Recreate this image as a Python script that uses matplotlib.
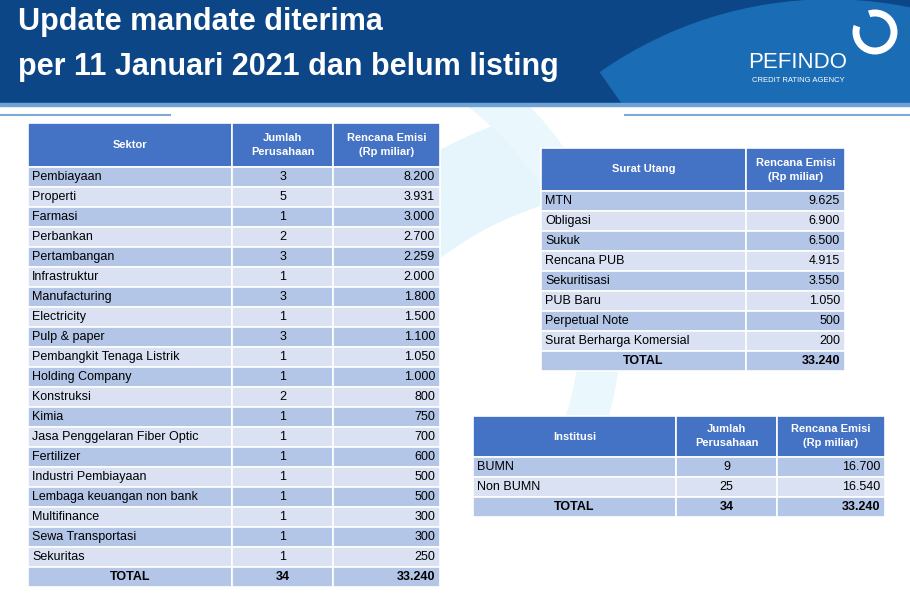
import matplotlib.pyplot as plt
from matplotlib.patches import Rectangle, Circle, Wedge

plt.rcParams["font.family"] = "Liberation Sans"

title_lines = ["Update mandate diterima", "per 11 Januari 2021 dan belum listing"]

sektor = ["Pembiayaan", "Properti", "Farmasi", "Perbankan", "Pertambangan", "Infrastruktur",
          "Manufacturing", "Electricity", "Pulp & paper", "Pembangkit Tenaga Listrik",
          "Holding Company", "Konstruksi", "Kimia", "Jasa Penggelaran Fiber Optic",
          "Fertilizer", "Industri Pembiayaan", "Lembaga keuangan non bank", "Multifinance",
          "Sewa Transportasi", "Sekuritas"]
sektor_jumlah = [3, 5, 1, 2, 3, 1, 3, 1, 3, 1, 1, 2, 1, 1, 1, 1, 1, 1, 1, 1]
sektor_emisi = ["8.200", "3.931", "3.000", "2.700", "2.259", "2.000", "1.800", "1.500", "1.100",
                "1.050", "1.000", "800", "750", "700", "600", "500", "500", "300", "300", "250"]

surat = ["MTN", "Obligasi", "Sukuk", "Rencana PUB", "Sekuritisasi", "PUB Baru",
         "Perpetual Note", "Surat Berharga Komersial"]
surat_emisi = ["9.625", "6.900", "6.500", "4.915", "3.550", "1.050", "500", "200"]

institusi = ["BUMN", "Non BUMN"]
inst_jumlah = [9, 25]
inst_emisi = ["16.700", "16.540"]

HEAD = "#4472c4"
DARK = "#b4c6e7"
LIGHT = "#d9e1f2"

fig = plt.figure(figsize=(9.1, 6.05), dpi=100)
ax = fig.add_axes([0, 0, 1, 1])
ax.set_xlim(0, 910)
ax.set_ylim(605, 0)
ax.axis("off")

# background decoration (light swirl)
ax.add_patch(Wedge((640, 520), 420, 175, 255, width=90, color="#e6f5fb", zorder=0))
ax.add_patch(Wedge((300, 330), 320, 290, 20, width=40, color="#eaf7fc", zorder=0))

# header band
band = Rectangle((0, 0), 910, 103, color="#0d4686", zorder=1)
ax.add_patch(band)
arc = Wedge((830, 400), 400, 235, 305, color="#1a6cb5", zorder=1.5)
ax.add_patch(arc)
arc.set_clip_path(band)
ax.add_patch(Rectangle((0, 103), 910, 3, color="#6fa3d8", zorder=2))
ax.plot([0, 170], [115, 115], color="#7fa8d6", lw=1.5, zorder=2)
ax.plot([625, 910], [115, 115], color="#7fa8d6", lw=1.5, zorder=2)
for i, t in enumerate(title_lines):
    ax.text(18, 22 + i * 45, t, color="white", fontsize=22, fontweight="bold",
            va="center", ha="left", zorder=3)
ax.add_patch(Circle((875, 32), 19, fill=False, ec="white", lw=5, zorder=3))
ax.add_patch(Wedge((875, 32), 24, 200, 250, color="#1a6cb5", zorder=3.1))
ax.text(798, 62, "PEFINDO", color="white", fontsize=16, va="center", ha="center", zorder=3)
ax.text(798, 81, "CREDIT RATING AGENCY", color="white", fontsize=5.5, va="center", ha="center", zorder=3)


def draw_table(x0, cols, y0, head_h, row_h, header, rows, total):
    xs = [x0]
    for w in cols:
        xs.append(xs[-1] + w)
    for j in range(len(cols)):
        ax.add_patch(Rectangle((xs[j], y0), cols[j], head_h, fc=HEAD, ec="white", lw=1.2, zorder=4))
        ax.text((xs[j] + xs[j + 1]) / 2, y0 + head_h / 2, header[j], color="white",
                fontsize=8, fontweight="bold", ha="center", va="center",
                linespacing=1.5, zorder=5)
    y = y0 + head_h
    allrows = rows + [total]
    for i, r in enumerate(allrows):
        fc = DARK if i % 2 == 0 else LIGHT
        last = i == len(allrows) - 1
        for j in range(len(cols)):
            ax.add_patch(Rectangle((xs[j], y), cols[j], row_h, fc=fc, ec="white", lw=1.2, zorder=4))
            cy = y + row_h / 2
            if j == 0 and not last:
                ax.text(xs[j] + 4, cy, r[j], fontsize=9, ha="left", va="center", zorder=5)
            elif j == len(cols) - 1:
                ax.text(xs[j + 1] - 5, cy, r[j], fontsize=9, ha="right", va="center",
                        fontweight="bold" if last else "normal", zorder=5)
            else:
                ax.text((xs[j] + xs[j + 1]) / 2, cy, r[j], fontsize=9, ha="center",
                        va="center", fontweight="bold" if last else "normal", zorder=5)
        y += row_h


draw_table(28, [204, 101, 107], 123, 44, 20,
           ["Sektor", "Jumlah\nPerusahaan", "Rencana Emisi\n(Rp miliar)"],
           [[s, str(j), e] for s, j, e in zip(sektor, sektor_jumlah, sektor_emisi)],
           ["TOTAL", str(sum(sektor_jumlah)), "33.240"])

draw_table(541, [205, 99], 148, 43, 20,
           ["Surat Utang", "Rencana Emisi\n(Rp miliar)"],
           [[s, e] for s, e in zip(surat, surat_emisi)],
           ["TOTAL", "33.240"])

draw_table(473, [203, 101, 108], 416, 41, 20,
           ["Institusi", "Jumlah\nPerusahaan", "Rencana Emisi\n(Rp miliar)"],
           [[s, str(j), e] for s, j, e in zip(institusi, inst_jumlah, inst_emisi)],
           ["TOTAL", str(sum(inst_jumlah)), "33.240"])

fig.savefig("out.png", dpi=100)
